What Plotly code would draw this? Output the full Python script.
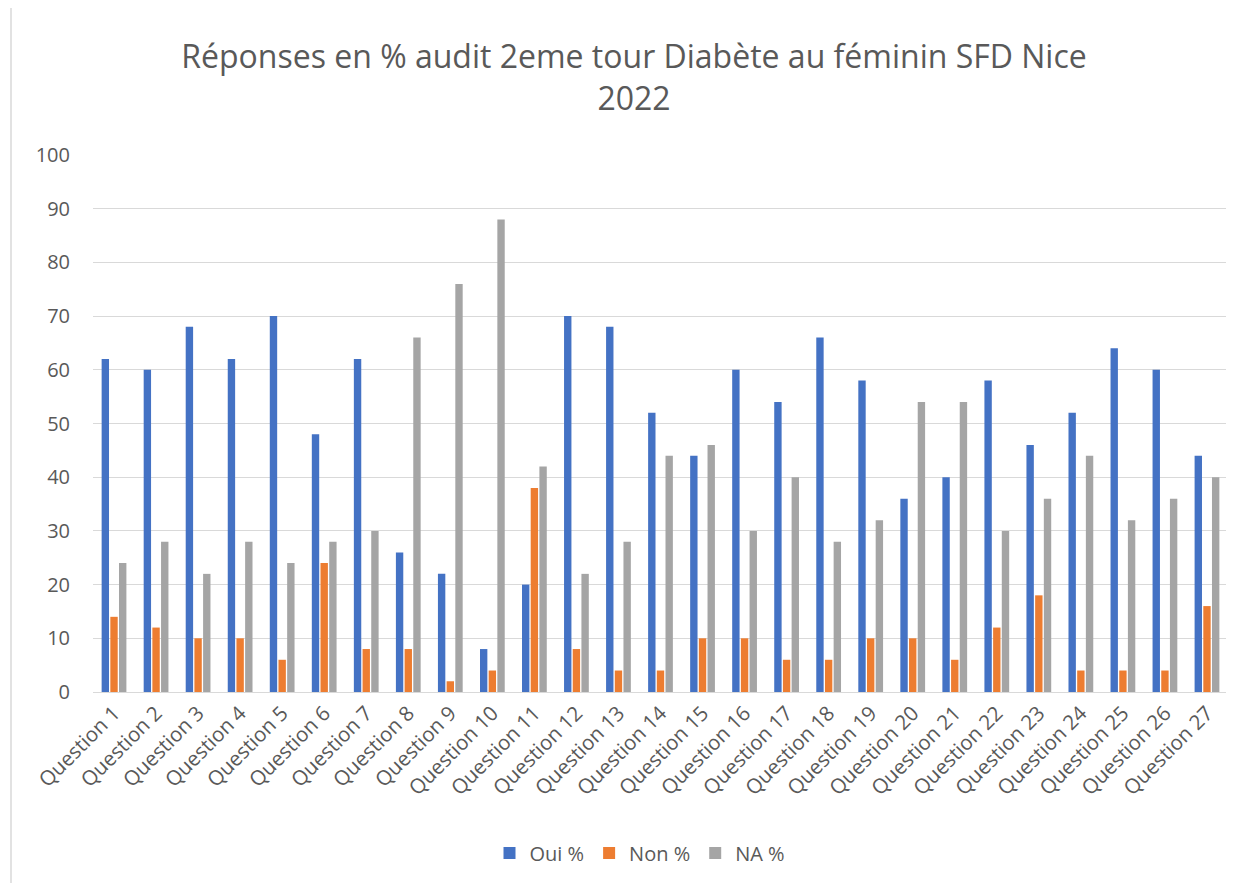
import plotly.graph_objects as go

categories = [f"Question {i}" for i in range(1, 28)]
oui = [62, 60, 68, 62, 70, 48, 62, 26, 22, 8, 20, 70, 68, 52, 44, 60, 54, 66, 58, 36, 40, 58, 46, 52, 64, 60, 44]
non = [14, 12, 10, 10, 6, 24, 8, 8, 2, 4, 38, 8, 4, 4, 10, 10, 6, 6, 10, 10, 6, 12, 18, 4, 4, 4, 16]
na = [24, 28, 22, 28, 24, 28, 30, 66, 76, 88, 42, 22, 28, 44, 46, 30, 40, 28, 32, 54, 54, 30, 36, 44, 32, 36, 40]

series = [("Oui %", oui, "#4472C4"), ("Non %", non, "#ED7D31"), ("NA %", na, "#A5A5A5")]

fig = go.Figure()
for name, vals, col in series:
    fig.add_trace(go.Bar(x=categories, y=vals, name=name, marker_color=col,
                         marker_line_width=0))

# Page body has an 8px margin, so figure coords = screen coords - 8
L, T = 85, 147
R_edge, B_edge = 1220, 684
W, H = 1234, 883

fig.update_layout(
    width=W, height=H,
    paper_bgcolor="white", plot_bgcolor="white",
    font=dict(family="Open Sans, sans-serif", color="#595959"),
    title=dict(
        text="Réponses en % audit 2eme tour Diabète au féminin SFD Nice<br>2022",
        x=(634 - 8) / W, xanchor="center", y=1 - 60 / H, yanchor="top",
        font=dict(size=32, color="#595959"),
    ),
    margin=dict(l=L, r=W - R_edge, t=T, b=H - B_edge),
    barmode="group", bargap=0.38, bargroupgap=0.15,
    legend=dict(orientation="h", x=(640 - 8 - L) / (R_edge - L), xanchor="center",
                y=-(845 - B_edge) / (B_edge - T), yanchor="middle",
                font=dict(size=20, color="#595959"), itemwidth=30),
    xaxis=dict(tickangle=-45, tickfont=dict(size=20.5, color="#595959"),
               showline=True, linecolor="#D9D9D9", linewidth=1, ticks=""),
    yaxis=dict(range=[0, 100], dtick=10, tickfont=dict(size=20, color="#595959"),
               gridcolor="#D9D9D9", gridwidth=1, zeroline=False, ticks="",
               ticklabelstandoff=22),
    shapes=[dict(type="rect", xref="paper", yref="paper",
                 x0=-(L - 3) / (R_edge - L), x1=1.0 + 20 / (R_edge - L),
                 y0=-(H - B_edge - 2) / (B_edge - T), y1=1 + (T + 5) / (B_edge - T),
                 line=dict(color="#D9D9D9", width=1.5), fillcolor="rgba(0,0,0,0)", layer="below")],
)

fig.write_html("out.html")
